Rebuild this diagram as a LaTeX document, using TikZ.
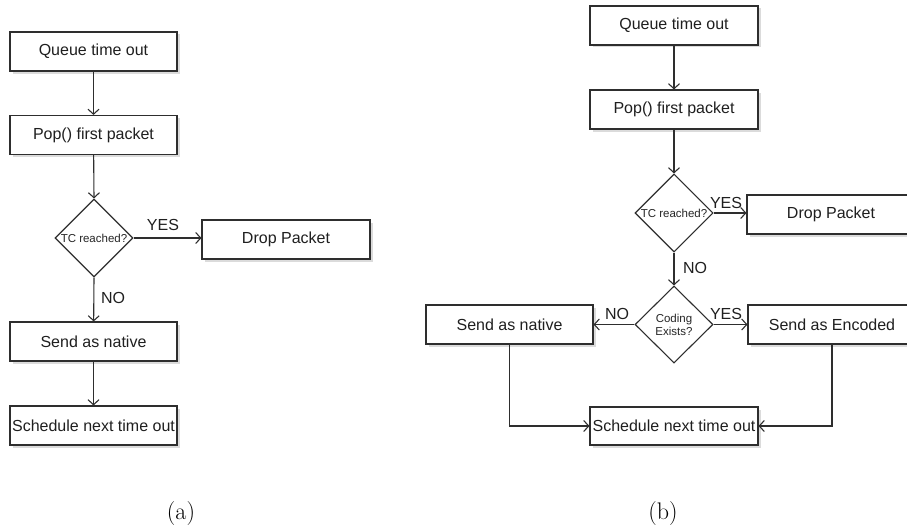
\documentclass[tikz,border=0pt]{standalone}
\usepackage{fontspec}
\newfontfamily\boxfont{Liberation Sans}
\usetikzlibrary{shapes.geometric,arrows.meta,shadows}

\tikzset{
  ink/.style={draw=black!82, line width=1.1pt},
  stepbox/.style={ink, rectangle, fill=white, inner sep=0pt,
    general shadow={shadow xshift=2.5pt, shadow yshift=-2.5pt, fill=black!14, draw=none},
    font=\boxfont\fontsize{16}{19}\selectfont, text=black!88},
  decision/.style={ink, diamond, fill=white, inner sep=0pt,
    minimum width=78pt, minimum height=78pt},
  dtext/.style={font=\boxfont\fontsize{11.5}{13}\selectfont, text=black!85, align=center, inner sep=0pt},
  answer/.style={font=\boxfont\fontsize{16}{19}\selectfont, text=black!88, inner sep=0pt},
  flow/.style={ink, -{Straight Barb[length=5pt,width=11pt,line width=1.1pt]}},
  caption/.style={font=\fontsize{24}{28}\selectfont, anchor=base}
}

\begin{document}
\begin{tikzpicture}[x=1pt, y=-1pt]
\useasboundingbox (0,0) rectangle (907,527);
\clip (0,0) rectangle (907,527);

% ---------- (a) ----------
\node[stepbox, minimum width=167pt, minimum height=39pt] (aq) at (93.5,51.5) {Queue time out};
\node[stepbox, minimum width=167pt, minimum height=39pt] (ap) at (93.5,135) {Pop() first packet};
\node[decision] (atc) at (94,238) {};
\node[dtext] at (atc.center) {TC reached?};
\node[stepbox, minimum width=168pt, minimum height=39pt] (adrop) at (286,239.5) {Drop Packet};
\node[stepbox, minimum width=167pt, minimum height=39pt] (anat) at (93.5,341.5) {Send as native};
\node[stepbox, minimum width=167pt, minimum height=39pt] (asch) at (93.5,425.5) {Schedule next time out};

\draw[flow] (aq) -- (ap);
\draw[flow] (ap) -- (atc.north);
\draw[flow] (atc.east) -- (adrop.west |- atc.east);
\draw[flow] (atc.south) -- (anat);
\draw[flow] (anat) -- (asch);

\node[answer] (ayes) at (163,225) {YES};
\node[answer] (ano) at (113,298) {NO};

\node[caption] (capa) at (181,519) {(a)};

% ---------- (b) ----------
\node[stepbox, minimum width=168pt, minimum height=39pt] (bq) at (674,25.5) {Queue time out};
\node[stepbox, minimum width=168pt, minimum height=39pt] (bp) at (674,109.5) {Pop() first packet};
\node[decision] (btc) at (674,213) {};
\node[dtext] at (btc.center) {TC reached?};
\node[stepbox, minimum width=168pt, minimum height=39pt] (bdrop) at (831,214.5) {Drop Packet};
\node[decision, minimum height=77pt] (bcode) at (674,324.5) {};
\node[dtext] at (bcode.center) {Coding\\Exists?};
\node[stepbox, minimum width=167pt, minimum height=39pt] (bnat) at (509.5,324.5) {Send as native};
\node[stepbox, minimum width=168pt, minimum height=39pt] (benc) at (832,324.5) {Send as Encoded};
\node[stepbox, minimum width=168pt, minimum height=38pt] (bsch) at (674,426) {Schedule next time out};

\draw[flow] (bq) -- (bp);
\draw[flow] (bp) -- (btc.north);
\draw[flow] (btc.east) -- (bdrop.west |- btc.east);
\draw[flow] (btc.south) -- (bcode.north);
\draw[flow] (bcode.west) -- (bnat.east |- bcode.west);
\draw[flow] (bcode.east) -- (benc.west |- bcode.east);
\draw[flow] (bnat.south) |- (bsch.west);
\draw[flow] (benc.south) |- (bsch.east);

\node[answer] (byes1) at (726,203) {YES};
\node[answer] (bno1) at (695,268) {NO};
\node[answer] (bno2) at (617,314) {NO};
\node[answer] (byes2) at (726,314) {YES};

\node[caption] (capb) at (663,519) {(b)};
\end{tikzpicture}
\end{document}
